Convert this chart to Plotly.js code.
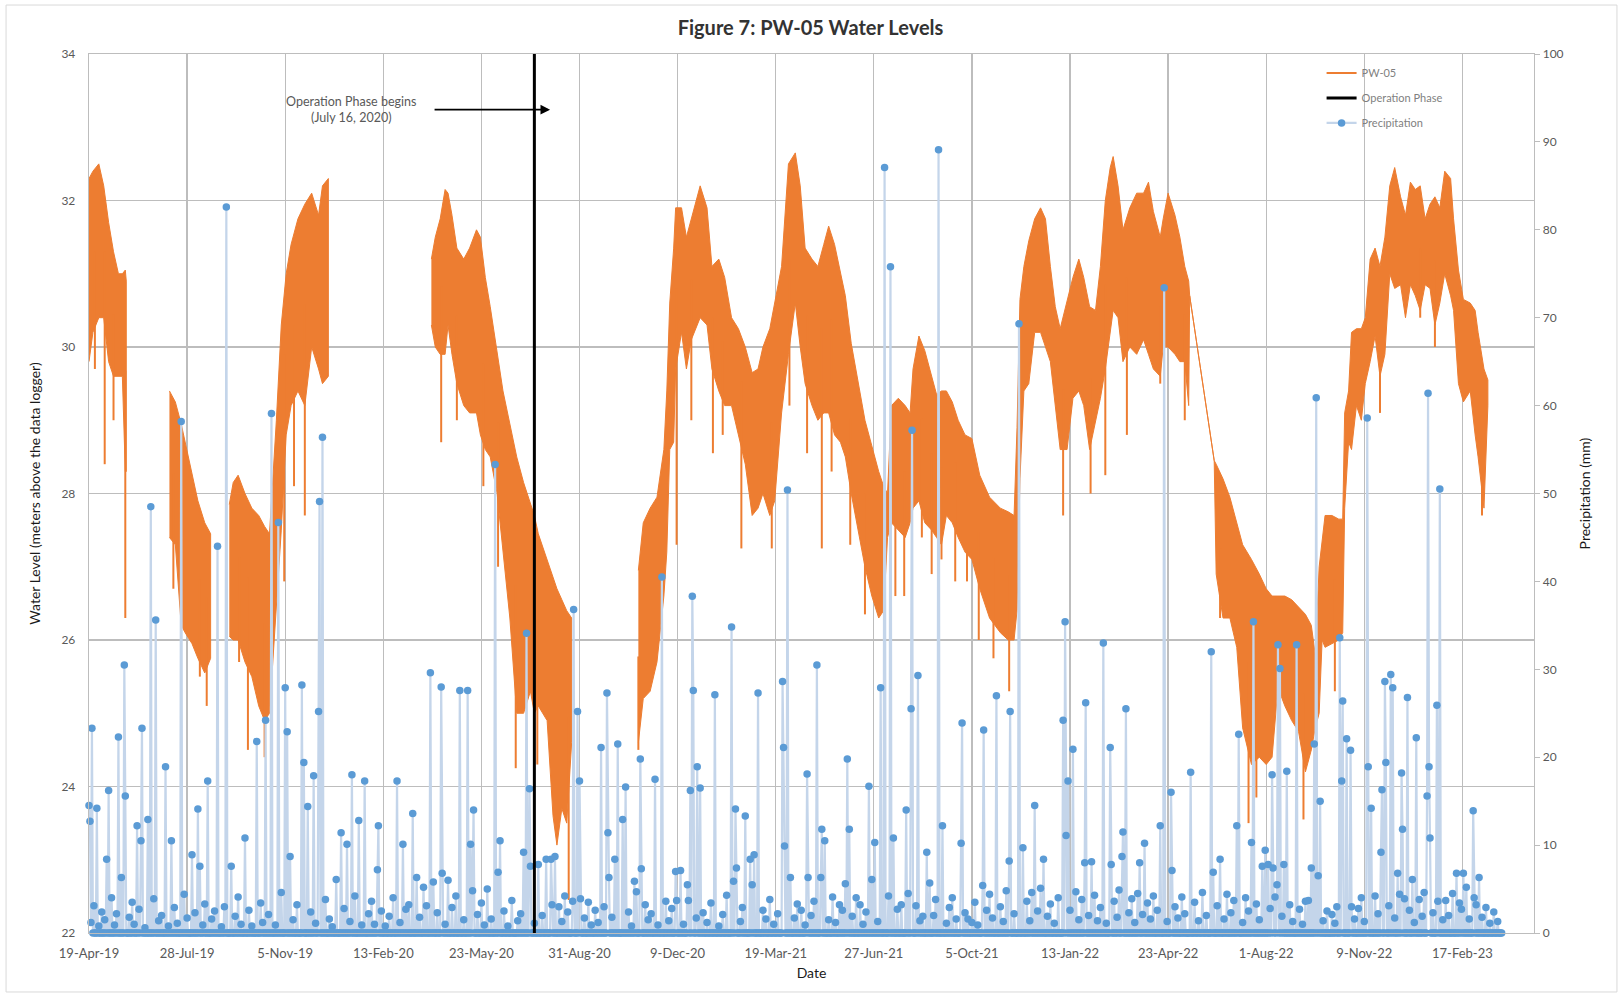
<!DOCTYPE html>
<html>
<head>
<meta charset="utf-8">
<script src="https://cdn.plot.ly/plotly-3.0.1.min.js"></script>
<style>
  html, body { margin: 0; padding: 0; background: #ffffff; }
  #chart { width: 1621px; height: 996px; }
</style>
</head>
<body>
<div id="chart"></div>
<script>
// Day offsets are counted from the first logger reading, 19-Apr-2019.
const START_UTC = Date.UTC(2019, 3, 19);

// Axis tick dates and labels (100-day spacing)
const xTickDates = ['2019-04-19','2019-07-28','2019-11-05','2020-02-13','2020-05-23','2020-08-31',
  '2020-12-09','2021-03-19','2021-06-27','2021-10-05','2022-01-13','2022-04-23','2022-08-01',
  '2022-11-09','2023-02-17'];
const xTickLabels = ['19-Apr-19','28-Jul-19','5-Nov-19','13-Feb-20','23-May-20','31-Aug-20',
  '9-Dec-20','19-Mar-21','27-Jun-21','5-Oct-21','13-Jan-22','23-Apr-22','1-Aug-22',
  '9-Nov-22','17-Feb-23'];
const xRange = ['2019-04-19', '2023-05-01'];

// PW-05 water level: daily upper and lower envelope of the logger trace (m).
// null separates periods without logger data.
const wlDay = [
  0,4,10,15,20,25,30,34,37,38, null,
  82,88,94,98,105,111,118,124, null,
  143,147,152,159,166,173,179,184,191,196,201,206,213,220,227,234,238,244, null,
  349,353,358,363,366,370,375,382,388,395,399,404,409,416,422,429,436,443,450,454,458,467,473,477,482,487,492, null,
  560,565,572,579,586,589,592,596,598,604,609,614,623,630,635,642,648,655,662,669,676,682,687,694,699,
  706,713,720,725,730,737,743,749,754,760,766,771,777,784,791,798,805,810,814,818,825,832,837,840,846,
  852,859,864,869,874,880,886,893,900,908,918,929,937,943,946,949,953,958,964,970,975,980,985,990,997,
  1003,1009,1014,1020,1026,1031,1036,1041,1044,1049,1054,1061,1068,1075,1080,1085,1092,1095,1100,1107,
  1112,1117,1121,1122,1147,1149,1156,1163,1170,1176,1185,1193,1200,1206,1212,1219,1226,1233,1240,1246,
  1250,1254,1257,1260,1267,1274,1278,1280,1284,1287,1292,1297,1301,1306,1311,1316,1321,1326,1331,1337,
  1342,1347,1352,1357,1362,1367,1372,1377,1382,1388,1391,1396,1401,1408,1413,1416,1422,1426
];
const wlHigh = [
  32.3,32.4,32.5,32.2,31.7,31.3,31.0,31.0,31.05,30.9, null,
  29.4,29.25,28.95,28.7,28.25,27.9,27.6,27.45, null,
  27.85,28.15,28.25,28.0,27.8,27.7,27.55,27.45,29.0,30.3,31.0,31.4,31.75,31.95,32.1,31.8,32.2,32.3, null,
  31.2,31.5,31.75,32.15,32.1,31.8,31.35,31.2,31.35,31.6,31.5,30.95,30.55,29.95,29.4,28.95,28.5,28.15,27.85,27.7,27.45,27.1,26.85,26.7,26.55,26.4,26.3, null,
  26.95,27.6,27.8,27.95,28.6,29.4,30.6,31.35,31.9,31.9,31.5,31.75,32.2,31.9,31.1,31.2,30.95,30.4,30.25,30.0,29.65,29.7,30.0,30.25,30.6,
  31.1,32.5,32.65,32.2,31.35,31.2,31.1,31.4,31.65,31.4,31.0,30.7,30.05,29.55,29.0,28.65,28.3,28.1,28.0,29.2,29.3,29.2,29.1,29.7,30.15,
  29.95,29.6,29.35,29.4,29.4,29.25,29.0,28.8,28.75,28.25,27.95,27.8,27.75,27.7,28.9,30.65,31.1,31.45,31.75,31.9,31.75,31.1,30.55,30.25,30.65,
  30.95,31.2,30.95,30.55,30.5,31.1,32.0,32.45,32.6,32.2,31.6,31.9,32.1,32.1,32.25,31.85,31.5,31.75,32.1,31.8,
  31.5,31.1,30.9,30.7,28.45,28.4,28.2,27.95,27.6,27.3,27.1,26.9,26.7,26.6,26.6,26.6,26.55,26.45,26.35,26.2,
  25.8,27.0,27.4,27.7,27.7,27.65,27.65,29.1,29.4,30.2,30.25,30.25,30.4,31.2,31.35,31.1,31.5,32.2,32.45,32.05,
  31.8,32.25,32.15,32.2,31.75,31.95,32.05,31.9,32.4,32.3,31.75,31.05,30.65,30.6,30.5,30.2,29.7,29.55
];
const wlLow = [
  29.8,30.2,30.4,30.4,29.8,29.6,29.6,29.6,28.3,28.3, null,
  27.4,27.3,26.2,26.1,25.95,25.75,25.55,25.75, null,
  26.05,26.0,26.0,25.7,25.5,25.1,24.9,25.0,26.4,27.5,28.8,29.2,29.4,29.2,30.0,29.7,29.5,29.6, null,
  30.3,30.0,29.9,29.9,30.3,29.9,29.5,29.2,29.1,29.1,28.8,28.6,28.5,28.0,27.2,26.3,25.0,25.0,25.3,25.0,25.1,24.9,23.6,23.2,23.7,23.5,24.6, null,
  24.6,25.2,25.3,25.7,26.6,27.2,28.6,28.7,29.7,30.2,29.7,30.1,30.4,30.3,29.7,29.4,29.2,29.2,28.8,28.4,27.7,27.8,28.0,27.7,27.9,
  29.1,29.9,30.6,30.0,29.5,29.2,29.0,29.1,29.1,28.8,28.7,28.5,28.0,27.5,27.0,26.6,26.3,26.4,27.4,27.6,27.5,27.4,27.6,27.8,27.9,
  27.6,27.5,27.4,27.3,27.7,27.6,27.4,27.2,27.1,26.7,26.3,26.1,26.0,26.0,26.4,28.2,29.4,29.5,30.2,30.2,30.0,29.8,29.2,28.6,28.6,
  29.3,29.4,29.2,28.6,29.0,29.3,29.7,30.2,30.5,30.4,29.8,30.0,29.9,30.1,29.9,29.7,29.6,30.0,30.0,29.9,
  29.8,29.8,29.2,30.7,28.45,26.9,26.3,26.3,25.9,24.8,24.3,24.4,24.3,24.4,25.35,25.1,24.9,24.75,24.2,24.5,
  24.8,25.0,26.0,25.9,25.95,26.0,26.1,27.8,28.7,28.6,29.2,29.0,29.5,29.8,30.15,29.6,29.9,31.0,30.8,30.85,
  30.4,30.85,30.7,30.5,30.85,30.8,30.3,30.6,31.0,30.7,30.5,29.5,29.25,29.4,28.8,28.5,27.8,29.2
];

// Short downward drawdown spikes below the band (day, level in m)
const dipDay = [6,16,25,37, 86,113,120, 153,162,179,199,209,220,
  359,375,402,417,435,457,489,
  560,599,614,636,646,665,696,714,732,747,757,776,791,822,831,849,859,869,883,895,
  907,922,938,993,1021,1036,1058,1092,1117,1153,1182,1190,1238,1270,1316,1357,1372,1420];
const dipLevel = [29.7,28.4,29.0,26.3, 26.7,25.5,25.1, 25.7,24.5,24.4,26.8,28.1,27.7,
  28.7,29.0,28.1,27.0,24.25,24.3,22.45,
  24.5,27.3,29.0,28.55,28.8,27.25,27.25,29.2,28.55,27.25,28.3,27.3,26.35,26.6,26.6,27.4,26.9,27.1,26.8,26.8,
  26.0,25.75,25.3,27.7,28.0,28.25,28.8,29.5,29.0,26.3,23.5,23.85,23.55,25.3,29.1,30.4,30.0,27.7];

// Daily precipitation (mm); days not listed had no rainfall
const precipDay = [
  0,1,3,8,18,20,30,33,36,37,49,53,54,60,63,68,78,84,94,105,111,113,121,131,140,145,159,171,180,186,193,200,202,205,
  217,219,223,229,234,235,238,252,257,263,268,275,281,294,295,
  314,320,326,330,334,341,348,351,359,360,366,378,386,389,391,392,406,414,417,419,443,446,449,450,458,466,471,472,475,
  485,493,494,498,500,501,522,528,529,530,536,539,544,547,556,558,562,563,577,584,598,599,
  603,610,611,613,615,616,619,620,623,638,655,657,659,660,669,674,676,678,682,687,707,708,709,712,715,726,732,733,739,
  742,746,747,750,765,771,773,775,782,795,798,801,807,811,815,817,820,828,833,835,838,839,845,850,854,857,866,870,889,890,896,
  911,912,925,938,939,948,952,964,973,993,995,996,998,1003,1015,1016,1022,1034,1041,1042,1053,1054,1057,1071,1076,1092,
  1096,1103,1104,1123,1144,1146,1153,1170,1172,1185,1187,1196,1199,
  1202,1206,1207,1211,1212,1214,1218,1221,1231,1243,1246,1249,1251,1253,1255,1267,1275,1277,1278,1282,1286,1287,1303,1304,
  1307,1311,1317,1318,1321,1322,1327,1329,1334,1338,1339,1341,1344,1349,1353,1364,1365,1366,1367,1374,1375,1377,1394,1397,
  1401,1404,1411,1412,1417
];
const precipMm = [
  14.5,12.7,23.3,14.2,8.4,16.2,22.3,6.3,30.5,15.6,12.2,10.5,23.3,12.9,48.5,35.6,18.9,10.5,58.2,8.9,14.1,7.6,17.3,44.0,82.6,7.6,10.8,21.8,24.2,59.1,46.7,27.9,22.9,8.7,
  28.2,19.4,14.4,17.9,25.2,49.1,56.4,6.1,11.4,10.1,18.0,12.8,17.3,7.2,12.2,
  17.3,10.1,3.2,13.6,6.3,5.2,29.6,5.8,28.0,6.8,6.0,27.6,27.6,10.1,4.8,14.0,5.0,53.3,6.9,10.5,9.2,34.1,16.4,7.6,7.8,8.4,8.4,3.2,8.7,
  4.2,3.6,36.8,25.2,17.3,3.9,21.1,27.3,11.4,6.3,8.4,21.5,12.9,16.6,5.9,4.7,19.8,7.3,17.5,40.5,7.0,3.7,
  7.1,5.5,3.7,16.2,38.3,27.6,1.7,18.9,16.5,27.1,34.8,5.9,14.1,7.4,13.3,8.4,5.5,8.9,27.3,2.6,28.6,21.1,9.9,50.4,6.3,2.6,18.1,6.3,3.6,
  30.5,6.3,11.8,10.5,3.2,5.6,19.8,11.8,4.0,16.7,6.1,10.3,27.9,87.1,4.2,75.8,10.8,3.2,14.0,4.5,25.5,57.2,29.3,1.9,9.2,5.7,89.1,12.2,10.2,23.9,1.6,
  5.4,23.1,27.0,8.2,25.2,69.3,9.7,14.5,8.4,24.2,35.4,11.1,17.3,20.9,8.0,26.2,8.1,33.0,21.1,7.8,8.7,11.5,25.5,8.0,10.2,12.2,
  73.4,16.0,7.1,18.3,32.0,6.9,8.4,12.2,22.6,10.3,35.4,7.6,9.4,
  7.8,18.0,7.4,5.5,32.8,30.1,7.8,18.4,32.8,3.7,7.4,21.5,60.9,6.5,15.0,2.1,33.6,17.3,26.4,22.1,20.8,3.0,58.6,18.9,
  14.2,4.2,9.2,16.3,28.6,19.4,29.4,27.9,6.8,18.2,11.8,3.9,26.8,6.1,22.2,15.6,61.4,18.9,10.8,25.9,3.6,50.5,6.8,3.4,
  6.8,5.2,13.9,4.0,6.3
];

// Light rainfall days (mm), the dense cluster just above the zero line
const lightRainDay = [
  2,5,10,13,16,23,26,28,41,44,46,51,57,66,71,74,81,87,90,97,100,108,116,118,125,128,135,138,149,152,155,163,166,175,177,183,
  190,196,208,212,226,231,241,245,248,260,266,271,278,285,288,291,298,302,306,310,317,323,337,344,355,363,370,374,382,396,
  400,403,410,423,427,431,437,440,454,462,479,482,488,505,509,512,516,519,525,533,550,553,567,570,573,580,588,591,594,606,
  626,630,634,642,646,650,664,666,690,694,698,702,719,722,730,736,754,758,761,768,778,786,789,792,804,824,843,847,861,863,
  874,877,880,884,893,900,903,906,915,918,921,929,932,935,943,956,959,961,967,970,977,980,984,988,1000,1006,1009,1012,1019,
  1025,1028,1031,1037,1045,1048,1050,1060,1063,1066,1069,1074,1079,1082,1085,1089,1099,1107,1110,1114,1117,1127,1131,1135,
  1139,1150,1157,1160,1164,1167,1176,1179,1182,1190,1193,1204,1209,1216,1224,1227,1234,1237,1240,1258,1262,1270,1272,1290,
  1294,1297,1300,1314,1325,1331,1336,1346,1351,1356,1359,1361,1370,1380,1383,1386,1390,1399,1407,1414,1420,1424,1428,1432,1436
];
const lightRainMm = [
  1.2,3.1,0.8,2.4,1.5,4.0,0.9,2.2,1.8,3.5,1.0,2.7,0.6,3.9,1.4,2.0,0.8,2.9,1.1,4.4,1.7,2.3,0.9,3.3,1.6,2.5,0.7,3.0,1.9,4.1,1.0,2.6,0.8,3.4,1.2,2.1,
  0.9,4.6,1.5,3.2,2.4,1.1,3.8,1.6,0.7,2.8,1.3,4.2,0.9,2.2,3.6,1.0,2.5,0.8,1.9,4.0,1.2,2.7,1.8,3.1,2.3,1.0,2.9,4.2,1.5,2.1,
  3.4,0.9,1.6,2.5,0.8,3.7,1.4,2.2,1.1,2.0,3.0,1.3,2.4,1.7,3.5,0.9,2.6,1.2,3.0,1.8,2.4,0.8,3.2,1.5,2.2,0.9,3.6,1.4,2.8,1.0,
  2.3,1.2,3.4,0.8,2.1,4.3,1.3,2.9,1.6,3.8,1.0,2.2,1.7,3.3,0.9,2.0,1.5,4.1,1.2,2.6,1.9,3.2,1.0,2.4,1.3,2.7,3.1,1.4,2.0,3.8,
  1.1,2.9,4.0,1.6,2.3,1.2,3.5,0.9,2.6,4.4,1.7,3.0,1.3,4.8,2.2,3.6,1.4,4.6,2.5,5.1,1.9,3.3,1.1,4.0,2.6,4.7,1.5,3.8,2.0,
  4.3,1.4,2.9,1.1,3.6,1.8,4.9,2.3,3.9,1.2,4.5,2.1,3.4,1.6,4.2,2.6,1.3,3.0,1.7,4.1,2.2,3.5,1.4,4.6,
  2.0,3.1,1.6,4.4,2.3,3.7,1.2,4.0,2.5,3.3,1.5,2.8,4.1,1.9,3.2,1.3,2.7,1.0,3.6,1.4,2.5,1.1,3.0,1.6,
  2.8,4.0,1.3,2.2,3.1,1.7,4.4,2.6,1.2,3.8,1.9,4.6,2.3,1.5,3.7,2.0,4.5,2.7,1.6,3.2,1.8,2.9,1.1,2.4,1.3
];
const precipLastDay = 1440;

// Start of the operation phase
const opDate = '2020-07-16';

function dayToDate(d) {
  return new Date(START_UTC + d * 86400000).toISOString().slice(0, 10);
}

// Water-level band: one closed outline per logging period
const bandX = [], bandY = [];
let seg = [];
function closeSegment() {
  if (!seg.length) return;
  seg.forEach(i => { bandX.push(dayToDate(wlDay[i])); bandY.push(wlHigh[i]); });
  seg.slice().reverse().forEach(i => { bandX.push(dayToDate(wlDay[i])); bandY.push(wlLow[i]); });
  bandX.push(null); bandY.push(null);
  seg = [];
}
wlDay.forEach((d, i) => { if (d === null) closeSegment(); else seg.push(i); });
closeSegment();

// Drawdown spikes hang from the middle of the band at the nearest logged day
const dipX = [], dipY = [];
dipDay.forEach((d, k) => {
  let best = -1, bestDist = Infinity;
  wlDay.forEach((w, i) => {
    if (w !== null && Math.abs(w - d) < bestDist) { bestDist = Math.abs(w - d); best = i; }
  });
  const mid = (wlHigh[best] + wlLow[best]) / 2;
  dipX.push(dayToDate(d), dayToDate(d), null);
  dipY.push(mid, dipLevel[k], null);
});

// Daily precipitation series
const rain = new Map();
lightRainDay.forEach((d, i) => rain.set(d, lightRainMm[i]));
precipDay.forEach((d, i) => rain.set(d, Math.max(precipMm[i], rain.get(d) || 0)));
const pX = [], pY = [];
for (let d = 0; d <= precipLastDay; d++) {
  pX.push(dayToDate(d));
  pY.push(rain.has(d) ? rain.get(d) : 0);
}

const ORANGE = '#ED7D31';
const BLUE = '#5B9BD5';
const GRID = '#BDBDBD';

const traces = [
  {
    x: bandX, y: bandY, type: 'scatter', mode: 'lines',
    fill: 'toself', fillcolor: ORANGE,
    line: { color: ORANGE, width: 1 },
    showlegend: false, hoverinfo: 'skip'
  },
  {
    x: dipX, y: dipY, type: 'scatter', mode: 'lines',
    name: 'PW-05', legendgroup: 'a', legendrank: 1,
    line: { color: ORANGE, width: 2 }
  },
  {
    x: pX, y: pY, yaxis: 'y2', type: 'scatter', mode: 'lines+markers',
    name: 'Precipitation', legendgroup: 'c', legendrank: 3,
    line: { color: '#C4D5EA', width: 2.2 },
    marker: { color: BLUE, size: 7.5 },
    cliponaxis: false
  },
  {
    x: [opDate, opDate], y: [0, 100], yaxis: 'y2', type: 'scatter', mode: 'lines',
    name: 'Operation Phase', legendgroup: 'b', legendrank: 2,
    line: { color: '#000000', width: 3 }
  }
];

const layout = {
  width: 1621, height: 996,
  margin: { l: 89, r: 87, t: 54, b: 63 },
  paper_bgcolor: '#ffffff', plot_bgcolor: '#ffffff',
  font: { family: 'Lato, "Liberation Sans", sans-serif', size: 12, color: '#595959' },
  title: {
    text: '<b>Figure 7: PW-05 Water Levels</b>',
    x: 0.5, xanchor: 'center', y: 0.972, yanchor: 'middle',
    font: { size: 20, color: '#333333' }
  },
  xaxis: {
    type: 'date', range: xRange,
    tickmode: 'array', tickvals: xTickDates, ticktext: xTickLabels,
    showgrid: true, gridcolor: GRID, gridwidth: 1.3,
    showline: true, linecolor: GRID, linewidth: 1.3, mirror: true,
    ticks: '', ticklabelstandoff: 8,
    tickfont: { size: 13, color: '#595959' },
    zeroline: false,
    title: { text: 'Date', font: { size: 14, color: '#1a1a1a' }, standoff: 8 }
  },
  yaxis: {
    range: [22, 34], tick0: 22, dtick: 2,
    showgrid: true, gridcolor: GRID, gridwidth: 1.3,
    showline: true, linecolor: GRID, linewidth: 1.3, mirror: true,
    ticks: '', ticklabelstandoff: 10,
    tickfont: { size: 12, color: '#595959' },
    zeroline: false,
    title: { text: 'Water Level (meters above the data logger)', font: { size: 14, color: '#1a1a1a' }, standoff: 17 }
  },
  yaxis2: {
    overlaying: 'y', side: 'right',
    range: [0, 100], tick0: 0, dtick: 10,
    showgrid: false, zeroline: false,
    showline: true, linecolor: GRID, linewidth: 1.3,
    ticks: 'outside', ticklen: 5, tickcolor: GRID,
    tickfont: { size: 12, color: '#595959' },
    title: { text: 'Precipitation (mm)', font: { size: 14, color: '#1a1a1a' }, standoff: 17 }
  },
  legend: {
    x: 0.853, xanchor: 'left', y: 0.995, yanchor: 'top',
    bgcolor: 'rgba(0,0,0,0)', borderwidth: 0,
    traceorder: 'grouped', tracegroupgap: 6,
    font: { size: 11, color: '#7f7f7f' }
  },
  annotations: [
    {
      x: '2020-08-01', y: 33.24, xref: 'x', yref: 'y',
      ax: -117, ay: 0, showarrow: true,
      arrowhead: 2, arrowsize: 1.2, arrowwidth: 1.6, arrowcolor: '#000000', text: ''
    },
    {
      x: '2020-01-11', y: 33.24, xref: 'x', yref: 'y', showarrow: false,
      text: 'Operation Phase begins<br>(July 16, 2020)',
      font: { size: 12.5, color: '#595959' }, align: 'center'
    }
  ],
  shapes: [
    {
      type: 'rect', xref: 'paper', yref: 'paper',
      x0: -0.0574, x1: 1.0574, y0: -0.0671, y1: 1.0557,
      line: { color: '#D9D9D9', width: 1 }, fillcolor: 'rgba(0,0,0,0)', layer: 'below'
    }
  ]
};

Plotly.newPlot('chart', traces, layout, { displayModeBar: false, staticPlot: true });
</script>
</body>
</html>
